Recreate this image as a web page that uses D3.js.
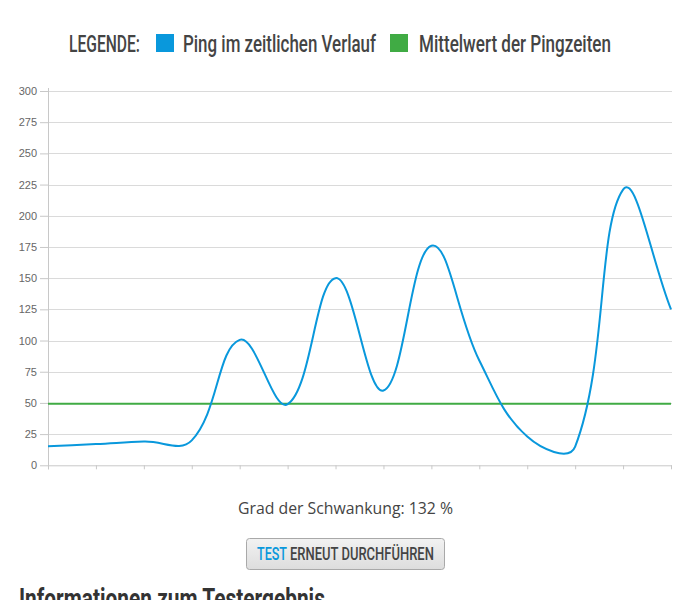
<!DOCTYPE html>
<html><head><meta charset="utf-8">
<script src="https://cdnjs.cloudflare.com/ajax/libs/d3/7.8.5/d3.min.js"></script>
<style>
html,body{margin:0;padding:0;background:#fff;overflow:hidden;}
svg{display:block;}
</style></head>
<body>
<script>
const pingValues = [15.3, 17, 19, 20, 100.5, 49, 150, 60, 176, 84, 23, 15, 221, 125];
const meanValues = [49.4, 49.4, 49.4, 49.4, 49.4, 49.4, 49.4, 49.4, 49.4, 49.4, 49.4, 49.4, 49.4, 49.4];
const xIndex = d3.range(pingValues.length);
const yTicks = [0, 25, 50, 75, 100, 125, 150, 175, 200, 225, 250, 275, 300];
const legendTitle = "LEGENDE:";
const seriesNames = ["Ping im zeitlichen Verlauf", "Mittelwert der Pingzeiten"];
const seriesColors = ["#0998dc", "#40ab44"];
const fluctuationLabel = "Grad der Schwankung: 132 %";
const buttonParts = ["TEST", "ERNEUT DURCHFÜHREN"];
const sectionTitle = "Informationen zum Testergebnis";

const W = 686, H = 600;
const svg = d3.select("body").append("svg").attr("width", W).attr("height", H);
const pLeft = 48, pRight = 671, pTop = 91, pBottom = 465.3;
const x = d3.scaleLinear().domain([0, pingValues.length - 1]).range([pLeft, pRight]);
const y = d3.scaleLinear().domain([0, 300]).range([pBottom, pTop]);

const condensed = "'Roboto','Liberation Sans',sans-serif";
// condensed text: natural text squeezed horizontally to a target width
function narrowText(parent, tx, ty, tw, size, weight, color, str) {
  const t = parent.append("text").attr("x", 0).attr("y", 0)
    .attr("font-family", condensed).attr("font-weight", weight)
    .attr("font-size", size).attr("fill", color).text(str);
  const w = t.node().getComputedTextLength() || tw;
  t.attr("transform", `translate(${tx},${ty}) scale(${tw / w},1)`);
  return t;
}

// Legend
const lg = svg.append("g");
narrowText(lg, 69, 52, 71, 23, 500, "#444", legendTitle);
const legendItems = [{sx: 156, tx: 183, tw: 193}, {sx: 390, tx: 419, tw: 192}];
legendItems.forEach((it, i) => {
  lg.append("rect").attr("x", it.sx).attr("y", 34).attr("width", 18).attr("height", 18).attr("fill", seriesColors[i]);
  narrowText(lg, it.tx, 52, it.tw, 23, 500, "#444", seriesNames[i]);
});

// grid
const g = svg.append("g");
g.selectAll("line.grid").data(yTicks.filter(d => d > 0)).enter().append("line")
  .attr("x1", pLeft).attr("x2", pRight + 1).attr("y1", d => Math.round(y(d)) + 0.5).attr("y2", d => Math.round(y(d)) + 0.5)
  .attr("stroke", "#dadada").attr("stroke-width", 1);

// y axis
const yAxis = d3.axisLeft(y).tickValues(yTicks).tickSize(8).tickPadding(3);
const ya = svg.append("g").attr("transform", `translate(${pLeft},0)`).call(yAxis);
ya.select(".domain").attr("stroke", "#c8c8c8").attr("d", `M0.5,${pTop - 3}V${pBottom + 4}`);
ya.selectAll(".tick line").attr("stroke", "#c8c8c8");
ya.selectAll(".tick text").attr("fill", "#666").attr("font-size", 11)
  .attr("font-family", "'Liberation Sans',Arial,sans-serif");

// x axis
const xAxis = d3.axisBottom(x).tickValues(xIndex).tickSize(4).tickFormat("");
const xa = svg.append("g").attr("transform", `translate(0,${pBottom})`).call(xAxis);
xa.select(".domain").attr("stroke", "#c8c8c8").attr("d", `M${pLeft},0.5H${pRight + 1}`);
xa.selectAll(".tick line").attr("stroke", "#c8c8c8");

// Chart.js-like spline
function splinePath(values) {
  const pts = values.map((v, i) => [x(i), y(v)]);
  const t = 0.4;
  const cps = pts.map((p, i) => {
    const prev = pts[i - 1] || p, next = pts[i + 1] || p;
    const d01 = Math.hypot(p[0] - prev[0], p[1] - prev[1]);
    const d12 = Math.hypot(next[0] - p[0], next[1] - p[1]);
    let fa = d01 / (d01 + d12), fb = d12 / (d01 + d12);
    if (isNaN(fa)) fa = 0; if (isNaN(fb)) fb = 0;
    fa *= t; fb *= t;
    return {
      prev: [p[0] - fa * (next[0] - prev[0]), p[1] - fa * (next[1] - prev[1])],
      next: [p[0] + fb * (next[0] - prev[0]), p[1] + fb * (next[1] - prev[1])]
    };
  });
  const path = d3.path();
  path.moveTo(pts[0][0], pts[0][1]);
  for (let i = 1; i < pts.length; i++) {
    const c1 = cps[i - 1].next, c2 = cps[i].prev;
    path.bezierCurveTo(c1[0], c1[1], c2[0], c2[1], pts[i][0], pts[i][1]);
  }
  return path.toString();
}

svg.append("path").attr("d", d3.line().x((d, i) => x(i)).y(d => y(d))(meanValues))
  .attr("fill", "none").attr("stroke", seriesColors[1]).attr("stroke-width", 2);
svg.append("path").attr("d", splinePath(pingValues))
  .attr("fill", "none").attr("stroke", seriesColors[0]).attr("stroke-width", 2);

// Fluctuation text
svg.append("text").attr("x", 345.5).attr("y", 514).attr("text-anchor", "middle")
  .attr("font-family", "'Open Sans',sans-serif").attr("font-size", 15.8).attr("fill", "#444")
  .text(fluctuationLabel);

// Button
const defs = svg.append("defs");
const grad = defs.append("linearGradient").attr("id", "btn").attr("x1", 0).attr("y1", 0).attr("x2", 0).attr("y2", 1);
grad.append("stop").attr("offset", "0%").attr("stop-color", "#f2f2f2");
grad.append("stop").attr("offset", "100%").attr("stop-color", "#dddddd");
svg.append("rect").attr("x", 246.5).attr("y", 538.5).attr("width", 198).attr("height", 31).attr("rx", 3)
  .attr("fill", "url(#btn)").attr("stroke", "#a9a9a9");
narrowText(svg, 257, 560, 30, 18, 500, "#0998dc", buttonParts[0]);
narrowText(svg, 290, 560, 144, 18, 500, "#444", buttonParts[1]);

// Section title (cut off at the bottom edge, as in the reference)
narrowText(svg, 19, 608, 306, 27, "bold", "#333", sectionTitle);
</script>
</body></html>
